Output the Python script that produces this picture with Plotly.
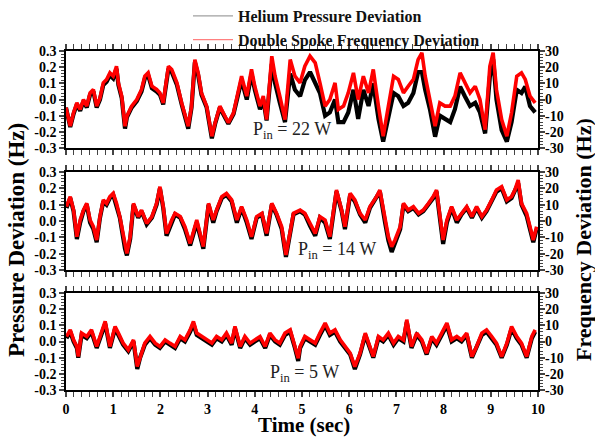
import plotly.graph_objects as go

# ---------------- data ----------------
# Panel 1 : P_in = 22 W
t1 = [0.00,0.09,0.16,0.23,0.30,0.37,0.44,0.51,0.58,0.65,
      0.72,0.79,0.86,0.93,1.00,1.07,1.11,1.18,1.25,1.29,
      1.39,1.50,1.60,1.67,1.74,1.82,1.92,1.99,2.06,2.17,
      2.24,2.35,2.45,2.52,2.59,2.66,2.73,2.80,2.87,2.98,
      3.09,3.16,3.26,3.33,3.44,3.55,3.65,3.72,3.83,3.93,
      4.00,4.11,4.18,4.25,4.36,4.43,4.53,4.64,4.75,4.85,
      4.96,5.06,5.17,5.28,5.38,5.49,5.59,5.70,5.77,5.88,
      5.98,6.09,6.19,6.30,6.41,6.51,6.62,6.72,6.83,6.94,
      7.04,7.15,7.25,7.36,7.46,7.54,7.61,7.71,7.82,7.92,
      8.03,8.14,8.24,8.35,8.45,8.56,8.67,8.77,8.88,8.98,
      9.05,9.12,9.23,9.34,9.44,9.55,9.65,9.73,9.83,9.94]
freq1 = [-5,-16.5,-8.2,-2.1,-6.2,0,-4.1,4.1,6.2,-4.1,
         1,10.3,12.4,16.5,14.4,20.6,10.3,2.1,-16.5,-10.3,
         -4.1,0,6.2,14.4,16.5,8.2,6.2,4.1,-2.1,20.6,
         18.6,10.3,-2.1,-10.3,-16.5,-4.1,24.7,16.5,4.1,-4.1,
         -22.7,-14.4,-4.1,-8.2,-14.4,-8.2,4.1,14.4,2.1,18.6,
         8.2,-4.1,2.1,-12.4,26.8,14.4,2.1,-12.4,24.7,14.4,
         10.3,20.6,26.8,22.7,10.3,-4.1,0,10.3,-6.2,-4.1,
         4.1,16.5,0,14.4,4.1,18.6,-4.1,-22.7,-4.1,14.4,
         12.4,4.1,8.2,12.4,24.7,28.9,14.4,0,-16.5,-2.1,
         -4.1,-4.1,2.1,16.5,10.3,4.1,8.2,0,-18.6,20.6,
         28.9,6.2,-12.4,-22.7,-8.2,14.4,16.5,12.4,2.1,-2.1]
pres1 = [-0.05,-0.17,-0.09,-0.03,-0.07,-0.01,-0.05,0.03,0.05,-0.05,
         0.0,0.09,0.11,0.15,0.13,0.19,0.09,0.01,-0.18,-0.11,
         -0.05,-0.01,0.05,0.13,0.15,0.07,0.05,0.03,-0.03,0.19,
         0.17,0.09,-0.03,-0.11,-0.18,-0.05,0.23,0.15,0.03,-0.05,
         -0.24,-0.15,-0.05,-0.09,-0.15,-0.09,0.03,0.12,0.0,0.16,
         0.06,-0.06,0.0,-0.13,0.22,0.10,-0.02,-0.14,0.16,0.06,
         0.02,0.12,0.17,0.10,0.04,-0.10,-0.08,0.0,-0.14,-0.14,
         -0.08,0.06,-0.12,0.06,-0.04,0.10,-0.12,-0.26,-0.10,0.04,
         0.02,-0.04,-0.02,0.04,0.17,0.17,0.06,-0.06,-0.23,-0.10,
         -0.12,-0.14,-0.06,0.08,0.02,-0.04,-0.02,-0.08,-0.21,0.14,
         0.25,0.0,-0.19,-0.26,-0.14,0.06,0.04,0.08,-0.04,-0.08]

# Panel 2 : P_in = 14 W
t2 = [0.01,0.09,0.16,0.23,0.30,0.37,0.44,0.51,0.58,0.65,
      0.72,0.79,0.86,0.93,1.00,1.07,1.14,1.25,1.29,1.36,
      1.43,1.53,1.60,1.71,1.82,1.92,1.99,2.06,2.13,2.24,
      2.31,2.42,2.52,2.63,2.70,2.77,2.84,2.91,3.02,3.12,
      3.19,3.30,3.40,3.51,3.62,3.72,3.83,3.93,4.04,4.15,
      4.25,4.36,4.46,4.57,4.66,4.75,4.82,
      4.96,5.06,5.17,5.28,5.38,5.49,5.59,5.70,5.73,5.84,
      5.91,6.02,6.12,6.23,6.34,6.44,6.58,6.65,6.76,6.83,
      6.90,6.97,7.08,7.15,7.25,7.36,7.47,7.57,7.68,7.78,
      7.85,7.92,7.99,8.07,8.17,8.28,8.38,8.49,8.60,8.70,
      8.81,8.91,9.02,9.12,9.23,9.34,9.44,9.51,9.58,9.65,
      9.76,9.83,9.90,9.97]
freq2 = [8.8,14.9,6.7,-9.6,0.6,6.7,10.8,0.6,-3.5,-11.6,
         2.7,12.9,10.8,14.9,16.9,10.8,2.7,-15.7,-19.8,-9.6,
         10.8,2.7,6.7,-1.4,2.7,10.8,21.0,8.8,-7.6,0.6,
         4.7,2.7,-3.5,-13.7,-5.5,0.6,-7.6,-15.7,10.8,0.6,
         6.7,14.9,16.9,12.9,0.6,8.8,0.6,-9.6,2.7,4.7,
         -7.6,10.8,4.7,-3.5,-20.8,-5.5,4.7,
         6.7,4.7,-1.4,-7.6,2.7,0.6,-9.6,12.9,19.0,6.7,
         -3.5,16.9,12.9,4.7,0.6,8.8,14.9,19.0,0.6,-9.6,
         -15.7,-11.6,-3.5,10.8,6.7,8.8,4.7,6.7,10.8,14.9,
         19.0,2.7,-11.6,0.6,8.8,0.6,4.7,8.8,2.7,8.8,
         2.7,6.7,12.9,19.0,21.0,12.9,14.9,19.0,25.1,10.8,
         4.7,-3.5,-11.6,-3.5]
pres2 = [0.08,0.14,0.06,-0.11,-0.01,0.06,0.10,-0.01,-0.05,-0.13,
         0.02,0.12,0.10,0.14,0.16,0.10,0.02,-0.17,-0.21,-0.11,
         0.10,0.02,0.06,-0.02,0.02,0.10,0.20,0.08,-0.09,-0.01,
         0.04,0.02,-0.05,-0.15,-0.07,-0.01,-0.09,-0.17,0.10,-0.01,
         0.06,0.14,0.16,0.12,-0.01,0.08,-0.01,-0.11,0.02,0.04,
         -0.09,0.10,0.04,-0.05,-0.22,-0.07,0.04,
         0.06,0.04,-0.03,-0.09,0.02,-0.01,-0.11,0.12,0.18,0.06,
         -0.05,0.16,0.12,0.04,-0.01,0.08,0.14,0.18,-0.01,-0.12,
         -0.19,-0.14,-0.05,0.10,0.06,0.08,0.04,0.06,0.10,0.14,
         0.18,0.02,-0.14,-0.01,0.08,-0.01,0.04,0.08,0.02,0.08,
         0.02,0.06,0.12,0.18,0.20,0.12,0.14,0.18,0.23,0.10,
         0.03,-0.05,-0.13,-0.05]

# Panel 3 : P_in = 5 W
t3 = [0.01,0.09,0.16,0.23,0.26,0.33,0.44,0.54,0.65,0.72,
      0.83,0.93,1.04,1.11,1.21,1.32,1.43,1.51,1.57,1.67,
      1.78,1.89,1.99,2.10,2.20,2.31,2.42,2.52,2.63,2.70,
      2.77,2.87,2.98,3.09,3.19,3.30,3.40,3.51,3.58,3.69,
      3.79,3.90,4.00,4.11,4.22,4.32,4.43,4.53,4.64,4.75,
      4.85,4.92,
      4.96,5.06,5.17,5.28,5.38,5.49,5.59,5.70,5.81,5.91,
      6.02,6.12,6.23,6.34,6.44,6.51,6.62,6.72,6.83,6.94,
      7.04,7.15,7.22,7.32,7.43,7.54,7.64,7.75,7.85,7.96,
      8.07,8.17,8.28,8.38,8.49,8.60,8.70,8.81,8.91,9.02,
      9.12,9.23,9.34,9.44,9.55,9.65,9.76,9.87,9.94]
freq3 = [3.1,7.2,1.0,-3.1,-9.3,5.2,3.1,7.2,-3.1,3.1,
         12.4,-3.1,9.3,5.2,-1.0,-5.2,1.0,-15.5,-9.3,-1.0,
         3.1,-1.0,-3.1,1.0,-1.0,-3.1,3.1,1.0,7.2,12.4,
         5.2,3.1,1.0,-1.0,3.1,1.0,5.2,-1.0,9.3,-3.1,
         3.1,-1.0,1.0,3.1,-3.1,5.2,1.0,-1.0,5.2,7.2,
         -3.1,-10.4,
         -3.1,3.1,1.0,-1.0,5.2,11.4,5.2,7.2,1.0,-3.1,
         -7.2,-15.5,-7.2,5.2,-3.1,-9.3,3.1,1.0,5.2,-1.0,
         3.1,1.0,13.5,-3.1,5.2,1.0,-7.2,3.1,-1.0,5.2,
         11.4,1.0,3.1,1.0,5.2,-9.3,-3.1,5.2,7.2,3.1,
         -1.0,-9.3,-1.0,9.3,3.1,-1.0,-9.3,3.1,7.2]
pres3 = [0.02,0.06,0.0,-0.04,-0.10,0.04,0.02,0.06,-0.04,0.02,
         0.11,-0.04,0.08,0.04,-0.02,-0.06,0.0,-0.17,-0.10,-0.02,
         0.02,-0.02,-0.04,0.0,-0.02,-0.04,0.02,0.0,0.06,0.11,
         0.04,0.02,0.0,-0.02,0.02,0.0,0.04,-0.02,0.08,-0.04,
         0.02,-0.02,0.0,0.02,-0.04,0.04,0.0,-0.02,0.04,0.06,
         -0.04,-0.12,
         -0.04,0.02,0.0,-0.02,0.04,0.10,0.04,0.06,0.0,-0.04,
         -0.08,-0.17,-0.08,0.04,-0.04,-0.10,0.02,0.0,0.04,-0.02,
         0.02,0.0,0.12,-0.04,0.04,0.0,-0.08,0.02,-0.02,0.04,
         0.10,0.0,0.02,0.0,0.04,-0.10,-0.04,0.04,0.06,0.02,
         -0.02,-0.10,-0.02,0.08,0.02,-0.02,-0.10,0.02,0.06]

power_labels = ["P<sub>in</sub> = 22 W", "P<sub>in</sub> = 14 W", "P<sub>in</sub> = 5 W"]
label_pos = [(4.79, -0.19), (5.74, -0.18), (5.06, -0.195)]

p_tickvals = [0.3, 0.2, 0.1, 0.0, -0.1, -0.2, -0.3]
p_ticktext = ["0.3", "0.2", "0.1", "0.0", "-0.1", "-0.2", "-0.3"]
f_tickvals = [30, 20, 10, 0, -10, -20, -30]
f_ticktext = ["30", "20", "10", "0", "-10", "-20", "-30"]
x_tickvals = list(range(0, 11))

# ---------------- figure ----------------
FONT = "Liberation Serif"
W, H = 595, 437
ml, mr, mt, mb = 66, 57, 51, 47
plot_w = W - ml - mr
plot_h = H - mt - mb
def yfrac(py):
    return (H - mb - py) / plot_h
def xfrac(px):
    return (px - ml) / plot_w
domains = [[yfrac(148), 1.0], [yfrac(270), yfrac(172)], [0.0, yfrac(293)]]

fig = go.Figure()
panels = [(t1, pres1, freq1), (t2, pres2, freq2), (t3, pres3, freq3)]

for i, (t, p, f) in enumerate(panels):
    k = i + 1
    xa = "x" if k == 1 else f"x{k}"
    ya = "y" if k == 1 else f"y{k}"
    yr = f"y{k+6}"
    fig.add_trace(go.Scatter(x=t, y=p, mode="lines", xaxis=xa, yaxis=ya,
                             line=dict(color="black", width=4.2), showlegend=False))
    fig.add_trace(go.Scatter(x=t, y=f, mode="lines", xaxis=xa, yaxis=yr,
                             line=dict(color="#ff0000", width=3.6), showlegend=False))

# legend-only entries
fig.add_trace(go.Scatter(x=[None], y=[None], mode="lines", name="Helium Pressure Deviation",
                         line=dict(color="#a0a0a0", width=1.2)))
fig.add_trace(go.Scatter(x=[None], y=[None], mode="lines", name="Double Spoke Frequency Deviation",
                         line=dict(color="#ff8080", width=1.2)))

axline = dict(showline=True, linecolor="black", linewidth=1.6, showgrid=False, zeroline=False)
tickfont = dict(family=FONT, size=14, color="black", weight="bold")

layout = dict(
    width=W, height=H, margin=dict(l=ml, r=mr, t=mt, b=mb, autoexpand=False),
    plot_bgcolor="white", paper_bgcolor="white",
    font=dict(family=FONT, color="black"),
    legend=dict(x=xfrac(188), y=yfrac(-1), xanchor="left", yanchor="top",
                font=dict(family=FONT, size=16, color="#111", weight="bold"),
                itemwidth=40, bgcolor="rgba(0,0,0,0)", tracegroupgap=0),
)

for i in range(3):
    k = i + 1
    xname = "xaxis" if k == 1 else f"xaxis{k}"
    yname = "yaxis" if k == 1 else f"yaxis{k}"
    yref = "y" if k == 1 else f"y{k}"
    xref = "x" if k == 1 else f"x{k}"
    show_xlabels = (k == 3)
    layout[xname] = dict(axline, range=[0, 10], domain=[0, 1], anchor=yref,
                         tickvals=x_tickvals, ticks="outside", ticklen=5, tickwidth=1.6,
                         mirror="allticks", showticklabels=show_xlabels, tickfont=tickfont,
                         minor=dict(dtick=1/6, tick0=0, ticks="outside", ticklen=3, tickwidth=1.3,
                                    showgrid=False))
    layout[f"xaxis{k+3}"] = dict(axline, range=[0, 10], overlaying=xref, anchor=yref,
                                 tickvals=x_tickvals, ticks="inside", ticklen=5, tickwidth=1.6,
                                 mirror="allticks", showticklabels=False,
                                 minor=dict(dtick=1/6, tick0=0, ticks="inside", ticklen=3,
                                            tickwidth=1.3, showgrid=False))
    layout[yname] = dict(axline, range=[-0.3, 0.3], domain=domains[i], anchor=xref,
                         tickvals=p_tickvals, ticktext=p_ticktext, ticks="outside", ticklen=5,
                         tickwidth=1.6, mirror="allticks", tickfont=tickfont,
                         minor=dict(dtick=0.02, tick0=0, ticks="outside", ticklen=3,
                                    tickwidth=1.3, showgrid=False))
    layout[f"yaxis{k+3}"] = dict(axline, range=[-0.3, 0.3], overlaying=yref, anchor=xref,
                                 tickvals=p_tickvals, ticks="inside", ticklen=5, tickwidth=1.6,
                                 mirror="allticks", showticklabels=False,
                                 minor=dict(dtick=0.02, tick0=0, ticks="inside", ticklen=3,
                                            tickwidth=1.3, showgrid=False))
    layout[f"yaxis{k+6}"] = dict(range=[-30, 30], overlaying=yref, anchor=xref, side="right",
                                 showline=False, showgrid=False, zeroline=False, ticks="",
                                 tickvals=f_tickvals, ticktext=f_ticktext, tickfont=tickfont,
                                 ticklabelstandoff=6)

fig.update_layout(**layout)

# Panel power labels
for i, (txt, (lx, ly)) in enumerate(zip(power_labels, label_pos)):
    k = i + 1
    fig.add_annotation(x=lx, y=ly, xref="x" if k == 1 else f"x{k}",
                       yref="y" if k == 1 else f"y{k}", text=txt, showarrow=False,
                       font=dict(family=FONT, size=18, color="#222"))

# Axis titles
fig.add_annotation(x=xfrac(16), y=yfrac(240), xref="paper", yref="paper",
                   xanchor="center", yanchor="middle",
                   text="Pressure Deviation (Hz)", textangle=-90, showarrow=False,
                   font=dict(family=FONT, size=23, color="black", weight="bold"))
fig.add_annotation(x=xfrac(583), y=yfrac(240), xref="paper", yref="paper",
                   xanchor="center", yanchor="middle",
                   text="Frequency Deviation (Hz)", textangle=-90, showarrow=False,
                   font=dict(family=FONT, size=22, color="black", weight="bold"))
fig.add_annotation(x=xfrac(304), y=yfrac(425), xref="paper", yref="paper",
                   xanchor="center", yanchor="middle",
                   text="Time (sec)", showarrow=False,
                   font=dict(family=FONT, size=21, color="black", weight="bold"))

fig.write_html("out.html")
